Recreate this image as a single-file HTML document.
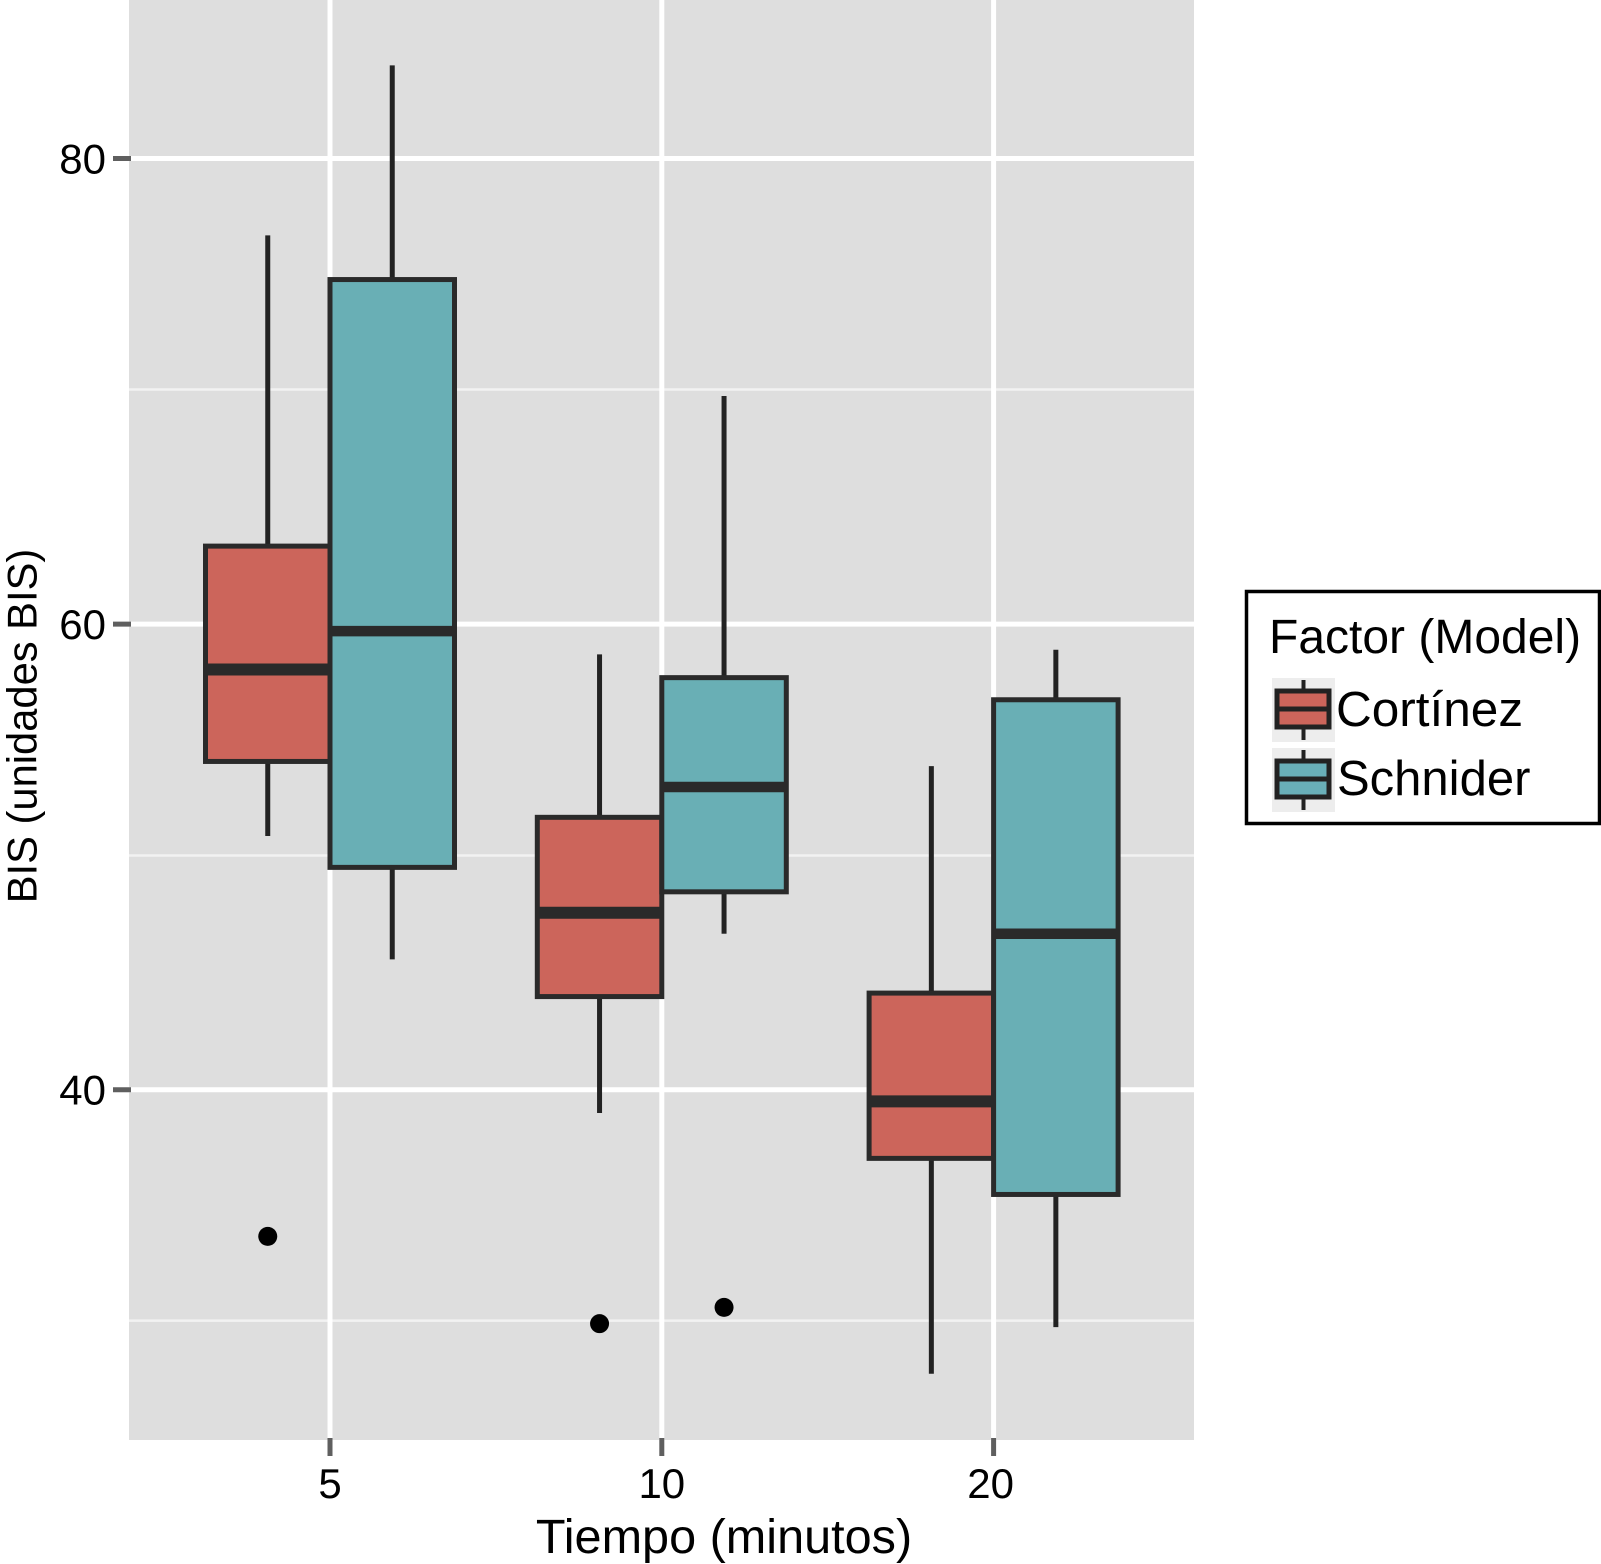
<!DOCTYPE html>
<html lang="es">
<head>
<meta charset="utf-8">
<title>BIS por tiempo y modelo</title>
<style>
html,body{margin:0;padding:0;background:#fff;}
svg{display:block;font-family:"Liberation Sans",Arial,sans-serif;}
</style>
</head>
<body>
<svg id="chart" width="1601" height="1564" viewBox="0 0 1601 1564" xmlns="http://www.w3.org/2000/svg">
  <rect x="129" y="0" width="1065" height="1440" fill="#dedede"/>
  <g id="grid"></g>
  <g id="axes"></g>
  <g id="marks"></g>
  <text x="724" y="1553" font-size="48.6" text-anchor="middle" fill="#000">Tiempo (minutos)</text>
  <text transform="translate(36.5,726) rotate(-90)" font-size="41.7" text-anchor="middle" fill="#000">BIS (unidades BIS)</text>
  <g>
    <rect x="1246.5" y="591.5" width="353" height="232" fill="#fff" stroke="#000" stroke-width="3.5"/>
    <text x="1269" y="653" font-size="48" fill="#000">Factor (Model)</text>
    <g>
      <rect x="1272" y="678" width="63" height="64" fill="#ededed"/>
      <line x1="1303.5" y1="680" x2="1303.5" y2="740" stroke="#222" stroke-width="4"/>
      <rect x="1277" y="691" width="52" height="36" fill="#cc655b" stroke="#222" stroke-width="5"/>
      <line x1="1277" y1="709" x2="1329" y2="709" stroke="#222" stroke-width="5"/>
      <text x="1336" y="726" font-size="49.5" fill="#000">Cortínez</text>
    </g>
    <g>
      <rect x="1272" y="748" width="63" height="64" fill="#ededed"/>
      <line x1="1303.5" y1="750" x2="1303.5" y2="810" stroke="#222" stroke-width="4"/>
      <rect x="1277" y="761" width="52" height="36" fill="#69afb8" stroke="#222" stroke-width="5"/>
      <line x1="1277" y1="779" x2="1329" y2="779" stroke="#222" stroke-width="5"/>
      <text x="1337" y="795" font-size="49" fill="#000">Schnider</text>
    </g>
  </g>
</svg>
<script>
const categories = ['5', '10', '20'];
const seriesNames = ['Cortínez', 'Schnider'];
const yTickLabels = [40, 60, 80];
const yMinorTicks = [30.08, 50.06, 70.08];
const cortinezWhiskerHigh = [76.7, 58.7, 53.9];
const cortinezQ3 = [63.35, 51.7, 44.15];
const cortinezMedian = [58.05, 47.6, 39.5];
const cortinezQ1 = [54.1, 44.0, 37.05];
const cortinezWhiskerLow = [50.9, 39.0, 27.8];
const cortinezOutliers = [[33.7], [29.95], []];
const schniderWhiskerHigh = [84.0, 69.8, 58.9];
const schniderQ3 = [74.8, 57.7, 56.75];
const schniderMedian = [59.7, 53.0, 46.7];
const schniderQ1 = [49.55, 48.5, 35.5];
const schniderWhiskerLow = [45.6, 46.7, 29.8];
const schniderOutliers = [[], [30.65], []];

const NS = 'http://www.w3.org/2000/svg';
const panel = { left: 129, right: 1194, bottom: 1440 };
const yScale = v => 158.5 + (80 - v) * 23.28;
const xScale = i => 330 + i * 331.8;
const boxWidth = 124.5;
const fills = ['#cc655b', '#69afb5'];

function make(parent, tag, attrs, text) {
  const el = document.createElementNS(NS, tag);
  for (const k in attrs) el.setAttribute(k, attrs[k]);
  if (text !== undefined) el.textContent = text;
  parent.appendChild(el);
  return el;
}

const grid = document.getElementById('grid');
const axes = document.getElementById('axes');
const marks = document.getElementById('marks');

yMinorTicks.forEach(v => {
  const l = make(grid, 'line', { x1: panel.left, x2: panel.right, y1: yScale(v), y2: yScale(v), stroke: '#f2f2f2', 'stroke-width': 2.5 });
  
  
});
yTickLabels.forEach(v => {
  const l = make(grid, 'line', { x1: panel.left, x2: panel.right, y1: yScale(v), y2: yScale(v), stroke: '#fff', 'stroke-width': 5 });
  
  
  const t = make(axes, 'line', { x1: 113, x2: 131, y1: yScale(v), y2: yScale(v), stroke: '#5f5f5f', 'stroke-width': 5 });
  
  
  const lab = make(axes, 'text', { x: 106, y: yScale(v) + 15, 'font-size': 42, 'text-anchor': 'end', fill: '#000' }, String(v));
  
  
});
categories.forEach((c, i) => {
  const x = xScale(i);
  const l = make(grid, 'line', { x1: x, x2: x, y1: 0, y2: panel.bottom, stroke: '#fff', 'stroke-width': 5 });
  
  
  const t = make(axes, 'line', { x1: x, x2: x, y1: 1438, y2: 1456, stroke: '#5f5f5f', 'stroke-width': 5 });
  
  
  const lab = make(axes, 'text', { x: x - (i === 2 ? 3 : 0), y: 1498, 'font-size': 42, 'text-anchor': 'middle', fill: '#000' }, c);
  
  
});

const seriesData = [
  [cortinezWhiskerHigh, cortinezQ3, cortinezMedian, cortinezQ1, cortinezWhiskerLow, cortinezOutliers],
  [schniderWhiskerHigh, schniderQ3, schniderMedian, schniderQ1, schniderWhiskerLow, schniderOutliers]
];

seriesData.forEach((s, si) => {
  categories.forEach((c, i) => {
    const cx = xScale(i) + (si === 0 ? -boxWidth / 2 : boxWidth / 2);
    const group = make(marks, 'g', {});
    
    
    const hi = make(group, 'line', { x1: cx, x2: cx, y1: yScale(s[0][i]), y2: yScale(s[1][i]), stroke: '#222', 'stroke-width': 5 });
    
    
    const lo = make(group, 'line', { x1: cx, x2: cx, y1: yScale(s[3][i]), y2: yScale(s[4][i]), stroke: '#222', 'stroke-width': 5 });
    
    
    const box = make(group, 'rect', { x: cx - boxWidth / 2, y: yScale(s[1][i]), width: boxWidth, height: yScale(s[3][i]) - yScale(s[1][i]), fill: fills[si], stroke: '#2a2a2a', 'stroke-width': 5 });
    
    
    const med = make(group, 'line', { x1: cx - boxWidth / 2, x2: cx + boxWidth / 2, y1: yScale(s[2][i]), y2: yScale(s[2][i]), stroke: '#2a2a2a', 'stroke-width': si === 0 ? 12 : 10.5 });
    
    
    s[5][i].forEach(v => {
      const o = make(group, 'circle', { cx: cx, cy: yScale(v), r: 9.5, fill: '#000' });
      
      
    });
  });
});
</script>
</body>
</html>
